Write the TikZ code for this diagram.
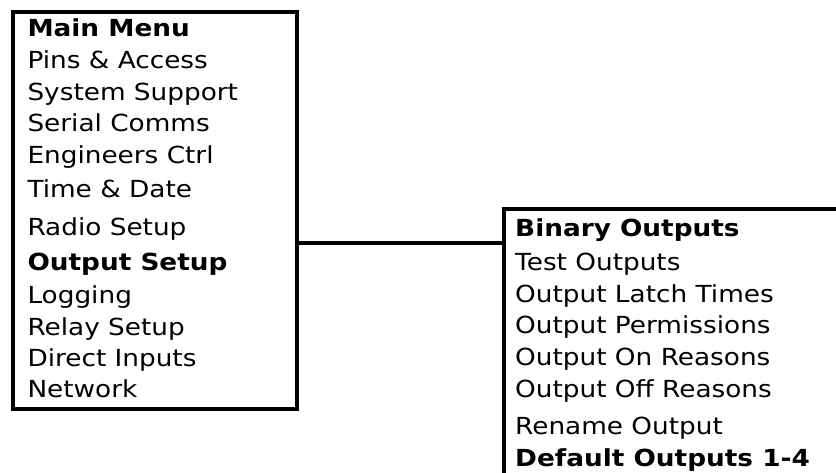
\documentclass[tikz,border=0pt]{standalone}
\usepackage{fontspec}
\setmainfont{DejaVu Sans}[FakeStretch=1.12]
\begin{document}
\begin{tikzpicture}[x=1pt,y=-1pt,
  box/.style={draw=black, line width=4pt, inner sep=0pt, anchor=north west},
  item/.style={anchor=base west, inner sep=0pt, font=\fontsize{23.5}{28}\selectfont},
  head/.style={item, font=\fontsize{23.5}{28}\selectfont\bfseries},
  link/.style={draw=black, line width=4pt}]
\useasboundingbox (0,0) rectangle (836,472);
\clip (0,0) rectangle (836,472);
\node[box, minimum width=283.4pt, minimum height=397.5pt] (main) at (11.3,9.5) {};
\node[box, minimum width=400pt, minimum height=320pt] (bin) at (502,206.8) {};
\coordinate (jy) at (0,242.8);
\draw[link] (main.east |- jy) -- (bin.west |- jy);
% left menu
\node[head] (m0) at (27.3,36.7) {Main Menu};
\node[item] (m1) at (27.3,68.3) {Pins \& Access};
\node[item] (m2) at (27.3,100) {System Support};
\node[item] (m3) at (27.3,131.7) {Serial Comms};
\node[item] (m4) at (27.3,163) {Engineers Ctrl};
\node[item] (m5) at (27.3,197.7) {Time \& Date};
\node[item] (m6) at (27.3,235) {Radio Setup};
\node[head] (m7) at (27.3,270) {Output Setup};
\node[item] (m8) at (27.3,303.3) {Logging};
\node[item] (m9) at (27.3,335) {Relay Setup};
\node[item] (m10) at (27.3,366.7) {Direct Inputs};
\node[item] (m11) at (27.3,397.3) {Network};
% right menu
\node[head] (b0) at (515,236) {Binary Outputs};
\node[item] (b1) at (515,270) {Test Outputs};
\node[item] (b2) at (515,302) {Output Latch Times};
\node[item] (b3) at (515,333.5) {Output Permissions};
\node[item] (b4) at (515,365) {Output On Reasons};
\node[item] (b5) at (515,397) {Output Off Reasons};
\node[item] (b6) at (515,434.5) {Rename Output};
\node[head] (b7) at (515,466) {Default Outputs 1-4};
\end{tikzpicture}
\end{document}
